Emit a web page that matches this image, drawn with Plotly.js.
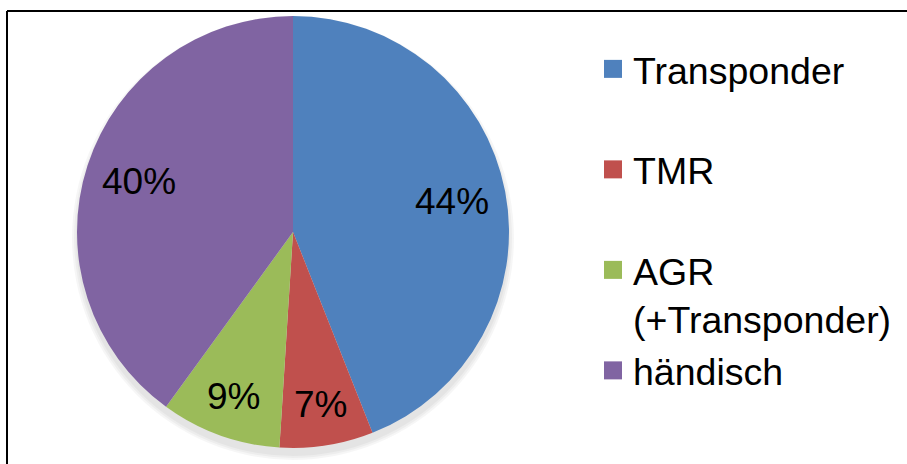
<!DOCTYPE html>
<html>
<head>
<meta charset="utf-8">
<script src="https://cdn.plot.ly/plotly-3.0.1.min.js"></script>
<style>html,body{margin:0;padding:0;background:#fff;}#chart{width:907px;height:464px;}</style>
</head>
<body>
<div id="chart"></div>
<script>
const categories = ["Transponder", "TMR", "AGR (+Transponder)", "händisch"];
const legendNames = ["Transponder<br>\u00a0", "TMR<br>\u00a0", "AGR<br>(+Transponder)", "händisch"];
const shares = [44, 7, 9, 40];
const colors = ["#4F81BD", "#C0504D", "#9BBB59", "#8064A2"];

const W = 907, H = 464;
const cx = 293, cy = 232, R = 216;
const FONT = "Liberation Sans, Arial, sans-serif";

// percentage labels placed at each slice's mid-angle (derived from shares)
const total = shares.reduce((a, b) => a + b, 0);
let cum = 0;
const annotations = shares.map((v) => {
  const mid = (cum + v / 2) / total * 2 * Math.PI;
  cum += v;
  const f = v < 15 ? 0.81 : 0.75;
  const px = cx + Math.sin(mid) * R * f;
  const py = cy - Math.cos(mid) * R * f;
  return {
    xref: "paper", yref: "paper", x: px / W, y: 1 - py / H,
    xanchor: "center", yanchor: "middle", showarrow: false,
    text: Math.round(v / total * 100) + "%",
    font: {family: FONT, size: 37, color: "#000"}
  };
});

const trace = {
  type: "pie",
  labels: legendNames,
  values: shares,
  sort: false,
  direction: "clockwise",
  rotation: 0,
  marker: {colors: colors, line: {width: 0}},
  textinfo: "none",
  textposition: "none",
  domain: {x: [(cx - R) / W, (cx + R) / W], y: [(H - cy - R) / H, (H - cy + R) / H]},
  showlegend: true,
  hoverinfo: "label+percent"
};

const shadow = [6, 4, 2].map((g) => ({
  type: "circle", xref: "paper", yref: "paper", layer: "below",
  x0: (cx - R - g + 1) / W, x1: (cx + R + g - 1) / W,
  y0: (H - (cy + 6) - R - g) / H, y1: (H - (cy + 6) + R + g) / H,
  fillcolor: "rgba(0,0,0,0.035)", line: {width: 0}
}));

const layout = {
  width: W, height: H,
  margin: {l: 0, r: 0, t: 0, b: 0},
  paper_bgcolor: "#fff",
  font: {family: FONT, size: 37.5, color: "#000"},
  legend: {
    x: 593 / W, y: 1 - 38 / H, xanchor: "left", yanchor: "top",
    valign: "top",
    font: {family: FONT, size: 37.5, color: "#000"},
    bgcolor: "rgba(0,0,0,0)"
  },
  annotations: annotations,
  shapes: shadow.concat([
    {type: "line", xref: "paper", yref: "paper", x0: 7 / W, x1: 1.01, y0: 1 - 11 / H, y1: 1 - 11 / H, line: {color: "#000", width: 2}},
    {type: "line", xref: "paper", yref: "paper", x0: 7 / W, x1: 7 / W, y0: -0.01, y1: 1 - 11 / H, line: {color: "#000", width: 2}}
  ])
};

Plotly.newPlot("chart", [trace], layout, {displayModeBar: false, staticPlot: true}).then(() => {
  document.querySelectorAll("#chart path.legendpie").forEach((p) => p.setAttribute("d", "M9,9H-9V-9H9Z"));
});
</script>
</body>
</html>
